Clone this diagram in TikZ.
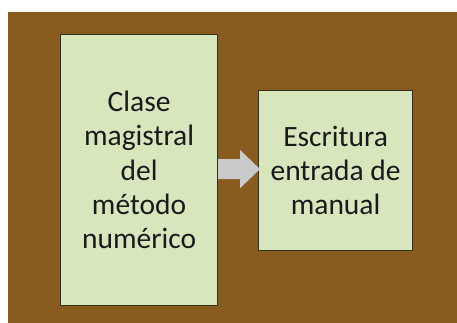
\documentclass[tikz,border=0pt]{standalone}
\usepackage{fontspec}
\setmainfont{Carlito}
\usetikzlibrary{calc}
\definecolor{bgbrown}{HTML}{8A5B1F}
\definecolor{boxfill}{HTML}{D8E6BD}
\definecolor{boxline}{HTML}{2E3320}
\definecolor{arrowgray}{HTML}{CACACA}
\definecolor{txt}{HTML}{1A1A1A}
\tikzset{
  box/.style={draw=boxline, line width=1.2pt, fill=boxfill, inner sep=0pt, anchor=north west,
    align=center, text=txt, font=\fontsize{29.5}{34.3}\selectfont},
}
\begin{document}
\begin{tikzpicture}[x=1pt,y=-1pt]
\useasboundingbox (0,0) rectangle (457,323);
\fill[white] (0,0) rectangle (457,323);
\fill[bgbrown] (8,12) rectangle (457,323);
\node[box, minimum width=157pt, minimum height=271pt] (a) at (60,34) {Clase\\magistral\\del\\método\\numérico};
\node[box, minimum width=154pt, minimum height=160pt] (b) at (258,90) {Escritura\\entrada de\\manual};
\coordinate (t) at ($(a.east)+(0,-1)$);
\fill[arrowgray] ($(t)+(0,-10)$) -- ($(t)+(22,-10)$) -- ($(t)+(22,-19)$) -- ($(b.west|-t)+(2,0)$)
  -- ($(t)+(22,19)$) -- ($(t)+(22,10)$) -- ($(t)+(0,10)$) -- cycle;
\end{tikzpicture}
\end{document}
